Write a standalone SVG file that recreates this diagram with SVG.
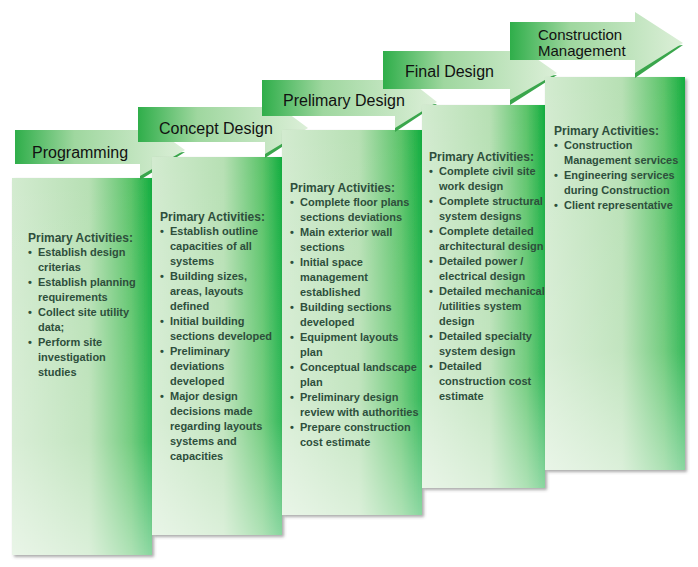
<svg xmlns="http://www.w3.org/2000/svg" width="698" height="567" viewBox="0 0 698 567">
<defs>
<linearGradient id="box" x1="0" y1="0" x2="1" y2="0"><stop offset="0" stop-color="#d3ebd0"/><stop offset="0.55" stop-color="#b7e0b4"/><stop offset="0.85" stop-color="#5cc46a"/><stop offset="1" stop-color="#12ad3f"/></linearGradient>
<linearGradient id="boxv" x1="0" y1="0" x2="0" y2="1"><stop offset="0" stop-color="#fff" stop-opacity="0"/><stop offset="0.7" stop-color="#fff" stop-opacity="0.15"/><stop offset="1" stop-color="#fff" stop-opacity="0.5"/></linearGradient>
<linearGradient id="arr" x1="0" y1="0" x2="1" y2="0"><stop offset="0" stop-color="#2fae4a"/><stop offset="0.35" stop-color="#9fd79f"/><stop offset="1" stop-color="#dcefd8"/></linearGradient>
<filter id="sh" x="-5%" y="-5%" width="115%" height="115%"><feDropShadow dx="2" dy="2" stdDeviation="1.5" flood-color="#555" flood-opacity="0.5"/></filter>
</defs>
<style>
.t{font-family:"Liberation Sans",Arial,sans-serif;font-weight:bold;font-size:11px;fill:#2e4f3c}
.h{font-size:12px}
.a{font-family:"Liberation Sans",Arial,sans-serif;font-size:16px;fill:#111}
.dk{fill:#3aa64c}
</style>
<g id="programming">
<rect x="12" y="178" width="140" height="377" fill="url(#box)" filter="url(#sh)"/>
<rect x="12" y="178" width="140" height="377" fill="url(#boxv)"/>
<path d="M15,164 H140 V180 L185,152 Z" class="dk"/>
<path d="M15,130 H140 V118 L185,150 L140,176 V164 H15 Z" fill="url(#arr)"/>
<text class="a" x="32" y="158">Programming</text>
<text class="t h" x="28" y="242">Primary Activities:</text>
<text class="t"><tspan x="28" y="256">•</tspan><tspan x="38" y="256">Establish design</tspan><tspan x="38" y="271">criterias</tspan><tspan x="28" y="286">•</tspan><tspan x="38" y="286">Establish planning</tspan><tspan x="38" y="301">requirements</tspan><tspan x="28" y="316">•</tspan><tspan x="38" y="316">Collect site utility</tspan><tspan x="38" y="331">data;</tspan><tspan x="28" y="346">•</tspan><tspan x="38" y="346">Perform site</tspan><tspan x="38" y="361">investigation</tspan><tspan x="38" y="376">studies</tspan></text>
</g>
<g id="concept">
<rect x="152" y="157" width="130" height="378" fill="url(#box)" filter="url(#sh)"/>
<rect x="152" y="157" width="130" height="378" fill="url(#boxv)"/>
<path d="M138,142 H265 V158 L308,130 Z" class="dk"/>
<path d="M138,107 H265 V96 L308,128 L265,154 V142 H138 Z" fill="url(#arr)"/>
<text class="a" x="159" y="134">Concept Design</text>
<text class="t h" x="160" y="221">Primary Activities:</text>
<text class="t"><tspan x="160" y="235">•</tspan><tspan x="170" y="235">Establish outline</tspan><tspan x="170" y="250">capacities of all</tspan><tspan x="170" y="265">systems</tspan><tspan x="160" y="280">•</tspan><tspan x="170" y="280">Building sizes,</tspan><tspan x="170" y="295">areas, layouts</tspan><tspan x="170" y="310">defined</tspan><tspan x="160" y="325">•</tspan><tspan x="170" y="325">Initial building</tspan><tspan x="170" y="340">sections developed</tspan><tspan x="160" y="355">•</tspan><tspan x="170" y="355">Preliminary</tspan><tspan x="170" y="370">deviations</tspan><tspan x="170" y="385">developed</tspan><tspan x="160" y="400">•</tspan><tspan x="170" y="400">Major design</tspan><tspan x="170" y="415">decisions made</tspan><tspan x="170" y="430">regarding layouts</tspan><tspan x="170" y="445">systems and</tspan><tspan x="170" y="460">capacities</tspan></text>
</g>
<g id="preliminary">
<rect x="282" y="130" width="140" height="385" fill="url(#box)" filter="url(#sh)"/>
<rect x="282" y="130" width="140" height="385" fill="url(#boxv)"/>
<path d="M262,116 H395 V132 L437,104 Z" class="dk"/>
<path d="M262,80 H395 V69 L437,102 L395,128 V116 H262 Z" fill="url(#arr)"/>
<text class="a" x="283" y="106">Prelimary Design</text>
<text class="t h" x="290" y="192">Primary Activities:</text>
<text class="t"><tspan x="290" y="206">•</tspan><tspan x="300" y="206">Complete floor plans</tspan><tspan x="300" y="221">sections deviations</tspan><tspan x="290" y="236">•</tspan><tspan x="300" y="236">Main exterior wall</tspan><tspan x="300" y="251">sections</tspan><tspan x="290" y="266">•</tspan><tspan x="300" y="266">Initial space</tspan><tspan x="300" y="281">management</tspan><tspan x="300" y="296">established</tspan><tspan x="290" y="311">•</tspan><tspan x="300" y="311">Building sections</tspan><tspan x="300" y="326">developed</tspan><tspan x="290" y="341">•</tspan><tspan x="300" y="341">Equipment layouts</tspan><tspan x="300" y="356">plan</tspan><tspan x="290" y="371">•</tspan><tspan x="300" y="371">Conceptual landscape</tspan><tspan x="300" y="386">plan</tspan><tspan x="290" y="401">•</tspan><tspan x="300" y="401">Preliminary design</tspan><tspan x="300" y="416">review with authorities</tspan><tspan x="290" y="431">•</tspan><tspan x="300" y="431">Prepare construction</tspan><tspan x="300" y="446">cost estimate</tspan></text>
</g>
<g id="final">
<rect x="422" y="105" width="123" height="383" fill="url(#box)" filter="url(#sh)"/>
<rect x="422" y="105" width="123" height="383" fill="url(#boxv)"/>
<path d="M383,89 H510 V105 L557,75 Z" class="dk"/>
<path d="M383,51 H510 V40 L557,73 L510,100 V89 H383 Z" fill="url(#arr)"/>
<text class="a" x="405" y="77">Final Design</text>
<text class="t h" x="429" y="161">Primary Activities:</text>
<text class="t"><tspan x="429" y="175">•</tspan><tspan x="439" y="175">Complete civil site</tspan><tspan x="439" y="190">work design</tspan><tspan x="429" y="205">•</tspan><tspan x="439" y="205">Complete structural</tspan><tspan x="439" y="220">system designs</tspan><tspan x="429" y="235">•</tspan><tspan x="439" y="235">Complete detailed</tspan><tspan x="439" y="250">architectural design</tspan><tspan x="429" y="265">•</tspan><tspan x="439" y="265">Detailed power /</tspan><tspan x="439" y="280">electrical design</tspan><tspan x="429" y="295">•</tspan><tspan x="439" y="295">Detailed mechanical</tspan><tspan x="439" y="310">/utilities system</tspan><tspan x="439" y="325">design</tspan><tspan x="429" y="340">•</tspan><tspan x="439" y="340">Detailed specialty</tspan><tspan x="439" y="355">system design</tspan><tspan x="429" y="370">•</tspan><tspan x="439" y="370">Detailed</tspan><tspan x="439" y="385">construction cost</tspan><tspan x="439" y="400">estimate</tspan></text>
</g>
<g id="construction">
<rect x="545" y="77" width="140" height="393" fill="url(#box)" filter="url(#sh)"/>
<rect x="545" y="77" width="140" height="393" fill="url(#boxv)"/>
<path d="M510,60 H635 V78 L683,45 Z" class="dk"/>
<path d="M510,22 H635 V12 L683,43 L635,73 V60 H510 Z" fill="url(#arr)"/>
<text class="a" x="538" y="40" style="font-size:15px">Construction</text>
<text class="a" x="538" y="56" style="font-size:15px">Management</text>
<text class="t h" x="554" y="135">Primary Activities:</text>
<text class="t"><tspan x="554" y="149">•</tspan><tspan x="564" y="149">Construction</tspan><tspan x="564" y="164">Management services</tspan><tspan x="554" y="179">•</tspan><tspan x="564" y="179">Engineering services</tspan><tspan x="564" y="194">during Construction</tspan><tspan x="554" y="209">•</tspan><tspan x="564" y="209">Client representative</tspan></text>
</g>
<g id="connectors"/>
</svg>
